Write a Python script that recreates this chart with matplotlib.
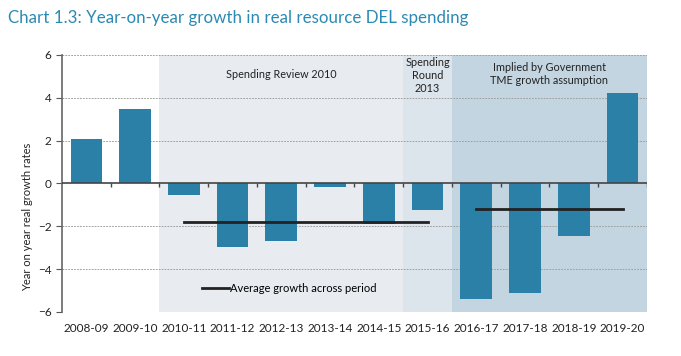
import matplotlib
matplotlib.use("Agg")
import matplotlib.pyplot as plt
import numpy as np

plt.rcParams['font.family'] = ['Lato', 'DejaVu Sans']

years = ['2008-09', '2009-10', '2010-11', '2011-12', '2012-13', '2013-14',
         '2014-15', '2015-16', '2016-17', '2017-18', '2018-19', '2019-20']
growth = [2.07, 3.47, -0.55, -2.98, -2.70, -0.15, -1.90, -1.25, -5.39, -5.11, -2.47, 4.2]

# periods: (first year index, last year index, label)
periods = [
    (2, 6, 'Spending Review 2010'),
    (7, 7, 'Spending\nRound\n2013'),
    (8, 11, 'Implied by Government\nTME growth assumption'),
]
period_colors = ['#e8ecf1', '#dce4ec', '#c3d5e1']
label_tops = [5.35, 5.9, 5.65]
avg_spans = [(2, 7), (8, 11)]
avg_values = [-1.82, -1.22]

bar_color = '#2a80a7'

fig = plt.figure(figsize=(6.81, 3.56), dpi=100)
ax = fig.add_axes([0.091, 0.124, 0.859, 0.722])

x = np.arange(len(years))
ax.set_xlim(-0.5, len(years) - 0.5)
ax.set_ylim(-6, 6)

for (a, b, lab), c, top in zip(periods, period_colors, label_tops):
    ax.axvspan(a - 0.5, b + 0.5, color=c, zorder=0, lw=0)
    ax.text((a + b) / 2, top, lab, ha='center', va='top',
            fontsize=7.8, color='#222222', linespacing=1.2, zorder=5)

for yv in [6, 4, 2, -2, -4, -6]:
    ax.axhline(yv, color='#a0a0a0', lw=0.7, ls=(0, (1.8, 1.2)), zorder=1)

ax.bar(x, growth, width=0.65, color=bar_color, zorder=3)

ax.axhline(0, color='#444444', lw=1.2, zorder=4)
ax.vlines(np.arange(len(years)) + 0.5, -0.15, 0, color='#444444', lw=1.0, zorder=4)

for (a, b), v in zip(avg_spans, avg_values):
    line, = ax.plot([a, b], [v, v], color='#222222', lw=2, zorder=4)
line.set_label('Average growth across period')
ax.legend(loc='lower left', bbox_to_anchor=(0.222, 0.03), frameon=False,
          fontsize=8, handlelength=2.4, handletextpad=0.1)

ax.set_xticks(x)
ax.set_xticklabels(years, fontsize=8.5, color='#222222')
ax.tick_params(axis='x', length=0, pad=8)
ax.set_yticks([-6, -4, -2, 0, 2, 4, 6])
ax.tick_params(axis='y', length=4, color='#555555', labelsize=8.5, labelcolor='#222222')
ax.set_ylabel('Year on year real growth rates', fontsize=8, color='#222222')
ax.yaxis.set_label_coords(-0.05, 0.37)

for s in ['top', 'right', 'bottom']:
    ax.spines[s].set_visible(False)
ax.spines['left'].set_color('#666666')
ax.spines['left'].set_linewidth(1.2)

fig.text(0.012, 0.95, 'Chart 1.3: Year-on-year growth in real resource DEL spending',
         fontsize=12.2, color='#2b8ab3', ha='left', va='center')

fig.savefig('out.png', dpi=100)
